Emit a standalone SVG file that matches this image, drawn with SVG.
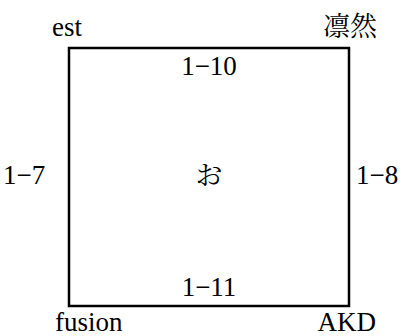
<svg xmlns="http://www.w3.org/2000/svg" width="412" height="336" viewBox="0 0 412 336">
<style>
text{font-family:'Liberation Serif','Noto Serif CJK JP','Noto Sans CJK JP',serif;font-size:27px;fill:#000}
.m{text-anchor:middle}
.e{text-anchor:end}
</style>
<rect width="412" height="336" fill="#fff"/>
<g id="box">
<rect x="69" y="48" width="280" height="258" fill="none" stroke="#000" stroke-width="2.5"/>
<text class="m" x="209" y="185">お</text>
</g>
<g id="labels">
<text x="52" y="36">est</text>
<text class="e" x="377" y="36">凛然</text>
<text class="m" x="209" y="75">1−10</text>
<text x="3" y="184">1−7</text>
<text x="356" y="184">1−8</text>
<text class="m" x="209" y="296">1−11</text>
<text x="55" y="331">fusion</text>
<text class="e" x="376" y="331">AKD</text>
</g>
<g id="connectors"></g>
</svg>
